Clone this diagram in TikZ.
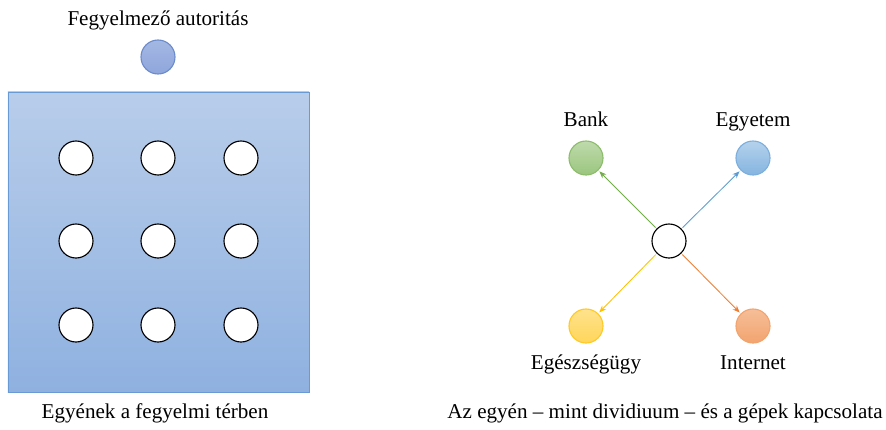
\documentclass[tikz,border=0pt]{standalone}
\usepackage{fontspec}
\setmainfont{Liberation Serif}
\usetikzlibrary{positioning,arrows.meta}

\definecolor{teraFel}{HTML}{B8CDEA}
\definecolor{teraLe}{HTML}{8FB1E0}
\definecolor{teraSzel}{HTML}{6A9AD6}
\definecolor{autorKek}{HTML}{8EA6DC}
\definecolor{autorSzel}{HTML}{6C8BCB}
\definecolor{bankZold}{HTML}{70AD47}
\definecolor{egyetemKek}{HTML}{5B9BD5}
\definecolor{egeszSarga}{HTML}{FFC000}
\definecolor{netNarancs}{HTML}{ED7D31}

\begin{document}
\begin{tikzpicture}[x=0.025cm, y=-0.025cm, font=\fontsize{15}{18}\selectfont]
\useasboundingbox (0,0) rectangle (886,429);

% Styles for the circles and the labels
\tikzstyle{pont} = [circle, minimum size=0.85cm, inner sep=0pt, line width=0.8pt]
\tikzstyle{egyen} = [pont, draw=black, fill=white]
\tikzstyle{felirat} = [inner sep=1pt, text height=2.1ex, text depth=0.6ex]
\tikzstyle{nyil} = [line width=0.6pt, -{Stealth[length=5pt, width=4pt]}, shorten <=1pt, shorten >=1pt]

% Left: the disciplinary space
\node[draw=teraSzel, line width=0.6pt, top color=teraFel, bottom color=teraLe,
      minimum width=7.525cm, minimum height=7.5cm, inner sep=0pt] (ter) at (158.5,242) {};
\node[pont, draw=autorSzel, top color=autorKek!80, bottom color=autorKek] (autor) at (158,57) {};
\node[felirat, above=0.2cm of autor] (autorfelirat) {Fegyelmező autoritás};

\foreach \sor/\y in {1/158, 2/241, 3/325}
  \foreach \osz/\x in {1/76, 2/158, 3/241}
    \node[egyen] (e\sor\osz) at (\x,\y) {};

\node[felirat] (balcim) at (155,414) {Egyének a fegyelmi térben};

% Right: the dividual and the machines
\node[egyen] (kozep) at (669,241) {};
\node[pont, draw=bankZold!80, top color=bankZold!45, bottom color=bankZold!70] (bank) at (586,158) {};
\node[pont, draw=egyetemKek!80, top color=egyetemKek!45, bottom color=egyetemKek!75] (egyetem) at (753,158) {};
\node[pont, draw=egeszSarga!85, top color=egeszSarga!45, bottom color=egeszSarga!65] (egesz) at (586,326) {};
\node[pont, draw=netNarancs!70, top color=netNarancs!50, bottom color=netNarancs!70] (net) at (753,326) {};

\node[felirat, above=0.2cm of bank] (bankfelirat) {Bank};
\node[felirat, above=0.2cm of egyetem] (egyetemfelirat) {Egyetem};
\node[felirat, below=0.26cm of egesz] (egeszfelirat) {Egészségügy};
\node[felirat, below=0.26cm of net] (netfelirat) {Internet};

\draw[nyil, bankZold] (kozep) -- (bank);
\draw[nyil, egyetemKek] (kozep) -- (egyetem);
\draw[nyil, egeszSarga] (kozep) -- (egesz);
\draw[nyil, netNarancs] (kozep) -- (net);

\node[felirat] (jobbcim) at (665,414) {Az egyén – mint dividiuum – és a gépek kapcsolata};
\end{tikzpicture}
\end{document}
